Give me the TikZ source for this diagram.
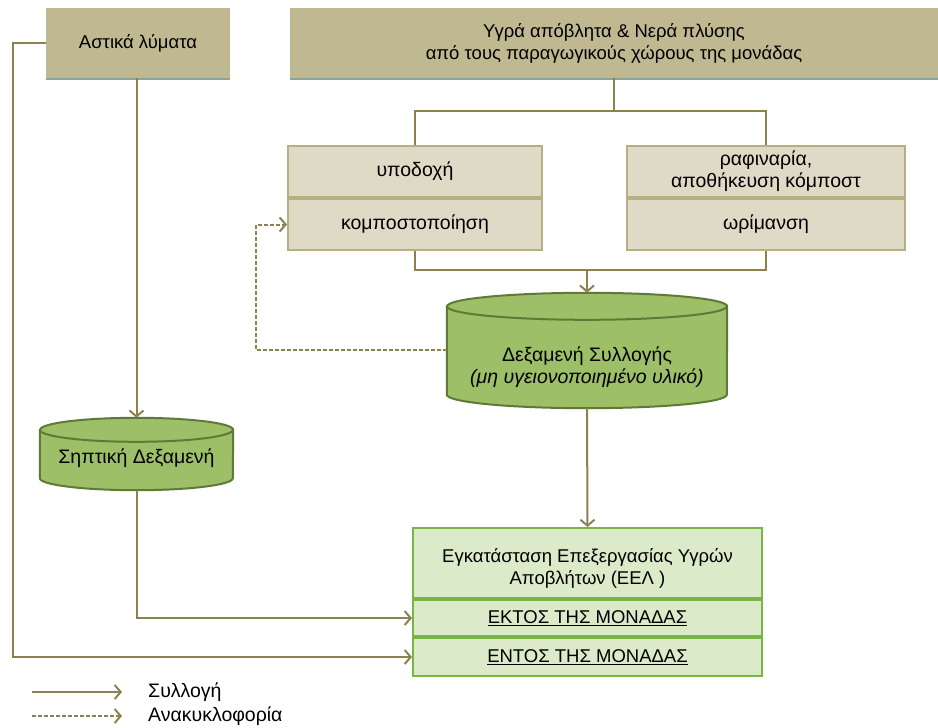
\documentclass[tikz,border=0pt]{standalone}
\usepackage{fontspec}
\setmainfont{Liberation Sans}
\usepackage{tikz}
\usetikzlibrary{positioning,arrows.meta,backgrounds,calc}
\definecolor{khaki}{RGB}{191,184,145}
\definecolor{khakishade}{RGB}{140,165,150}
\definecolor{procfill}{RGB}{222,218,197}
\definecolor{procline}{RGB}{184,175,128}
\definecolor{flowline}{RGB}{140,130,80}
\definecolor{tankfill}{RGB}{156,191,104}
\definecolor{tankline}{RGB}{95,122,55}
\definecolor{eelfill}{RGB}{219,234,201}
\definecolor{eelline}{RGB}{120,180,70}
% tank outline round a node: name, x radius, y radius
\newcommand\tankshape[3]{%
  \draw[tankdraw] ([yshift=-#3pt]#1.north west) -- ([yshift=#3pt]#1.south west)
    arc[start angle=180,end angle=0,x radius=#2,y radius=#3]
    -- ([yshift=-#3pt]#1.north east)
    arc[start angle=0,end angle=-180,x radius=#2,y radius=#3] -- cycle;
  \draw[tankdraw,fill=none] ([yshift=-#3pt]#1.north west)
    arc[start angle=180,end angle=0,x radius=#2,y radius=#3];}

\begin{document}
\begin{tikzpicture}[x=1pt,y=-1pt,
  every node/.style={font=\fontsize{19.5}{22}\selectfont},
  topbox/.style={fill=khaki,minimum height=70,inner sep=0pt,align=center,font=\fontsize{18.5}{22}\selectfont},
  procbox/.style={draw=procline,fill=procfill,line width=2pt,minimum height=51,inner sep=0pt,align=center},
  tank/.style={inner sep=0pt,align=center},
  tankdraw/.style={draw=tankline,fill=tankfill,line width=2pt},
  eelbox/.style={draw=eelline,fill=eelfill,line width=2pt,minimum width=349,inner sep=0pt,align=center,font=\fontsize{18.5}{22}\selectfont},
  link/.style={draw=flowline,line width=2pt},
  flow/.style={link,-{Straight Barb[length=6pt,width=14pt]}},
  recyc/.style={flow,dash pattern=on 4pt off 2pt}]
\useasboundingbox (0,0) rectangle (938,728);

% sources
\node[topbox,minimum width=184] (urban) at (138,43) {Αστικά λύματα};
\node[topbox,minimum width=648] (wash) at (614,43) {Υγρά απόβλητα \& Νερά  πλύσης\\από τους παραγωγικούς χώρους της μονάδας};
\draw[khakishade,line width=2pt] ([yshift=-1pt]urban.south west) -- ([yshift=-1pt]urban.south east);
\draw[khakishade,line width=2pt] ([yshift=-1pt]wash.south west) -- ([yshift=-1pt]wash.south east);

% composting areas
\node[procbox,minimum width=254] (recv) at (415,171.5) {υποδοχή};
\node[procbox,minimum width=254,below=0pt of recv] (comp) {κομποστοποίηση};
\node[procbox,minimum width=278] (refine) at (766,171.5) {ραφιναρία,\\αποθήκευση κόμποστ};
\node[procbox,minimum width=278,below=0pt of refine] (mature) {ωρίμανση};

% tanks
\node[tank,minimum width=280,minimum height=115] (coll) at (587,350.5) {\rule{0pt}{48pt}Δεξαμενή Συλλογής\\\textit{(μη υγειονοποιημένο υλικό)}};
\node[tank,minimum width=193,minimum height=72] (septic) at (136.5,454) {\rule{0pt}{24pt}Σηπτική Δεξαμενή};
\begin{scope}[on background layer]
\tankshape{coll}{140}{13.5}
\tankshape{septic}{96.5}{12}
\end{scope}

% treatment plant
\node[eelbox,minimum height=70] (eel) at (587.5,563) {\rule{0pt}{24pt}Εγκατάσταση Επεξεργασίας Υγρών\\Αποβλήτων (ΕΕΛ )};
\node[eelbox,minimum height=36,below=0pt of eel] (offsite) {\underline{ΕΚΤΟΣ ΤΗΣ ΜΟΝΑΔΑΣ}};
\node[eelbox,minimum height=38,below=0pt of offsite] (onsite) {\underline{ΕΝΤΟΣ ΤΗΣ ΜΟΝΑΔΑΣ}};

% connectors
\coordinate (split) at (614,111);
\coordinate (merge) at (587,270);
\coordinate (loop) at (256,350);
\coordinate (rim) at (13,43);
\draw[link] (wash.south) -- (split);
\draw[link] (recv.north) |- (split) -| (refine.north);
\draw[link] (comp.south) |- (merge) -| (mature.south);
\draw[flow] (merge) -- (coll.north);
\draw[recyc] (coll.west |- loop) -- (loop) |- (comp.west);
\draw[flow] (coll.south) -- (eel.north);
\draw[flow] (urban.south -| septic.north) -- (septic.north);
\draw[flow] (septic.south) |- (offsite.west);
\draw[flow] (urban.west) -- (rim) |- (onsite.west);

% legend
\coordinate (solidA) at (32,692);
\coordinate (solidB) at (122,692);
\coordinate (dashA) at (32,716);
\coordinate (dashB) at (122,716);
\node[right=26pt of solidB,inner sep=0pt] (collect) {Συλλογή};
\node[right=26pt of dashB,inner sep=0pt] (recirc) {Ανακυκλοφορία};
\draw[flow] (solidA) -- (solidB);
\draw[recyc] (dashA) -- (dashB);
\end{tikzpicture}
\end{document}
